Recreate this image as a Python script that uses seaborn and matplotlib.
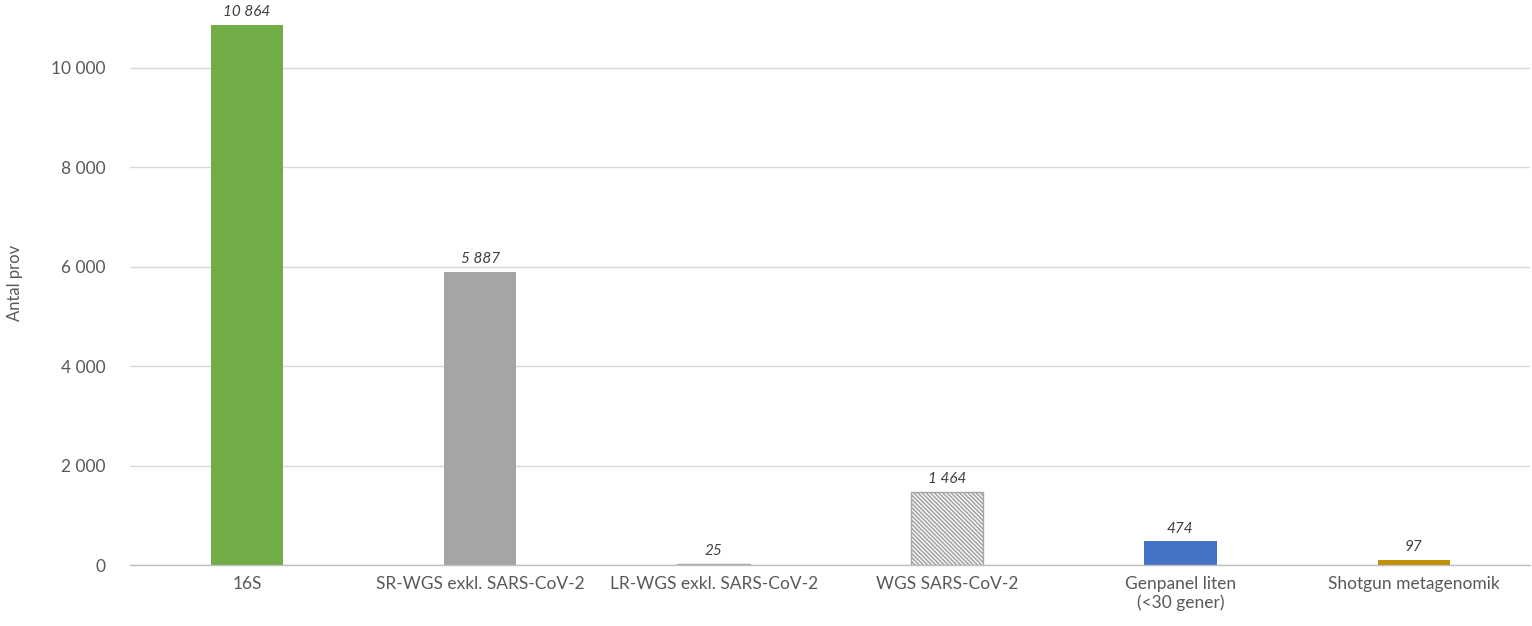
import pandas as pd
import seaborn as sns
import matplotlib.pyplot as plt

kategorier = ['16S', 'SR-WGS exkl. SARS-CoV-2', 'LR-WGS exkl. SARS-CoV-2',
              'WGS SARS-CoV-2', 'Genpanel liten\n(<30 gener)', 'Shotgun metagenomik']
antal = [10864, 5887, 25, 1464, 474, 97]
farger = ['#70AD47', '#A5A5A5', '#FFFFFF', '#FFFFFF', '#4472C4', '#BF9000']
streckad = [False, False, True, True, False, False]
yticks = [0, 2000, 4000, 6000, 8000, 10000]

df = pd.DataFrame({'kategori': kategorier, 'antal': antal})

sns.set_theme(style='white')
plt.rcParams['font.family'] = ['Lato', 'DejaVu Sans']
plt.rcParams['hatch.linewidth'] = 1.2
textfarg = '#595959'

fig = plt.figure(figsize=(15.32, 6.26), dpi=100)
ax = fig.add_axes([0.085, 0.0974, 0.914, 0.9026])

sns.barplot(data=df, x='kategori', y='antal', hue='kategori',
            palette=dict(zip(kategorier, farger)), width=0.31,
            legend=False, ax=ax, saturation=1)

for p, h in zip(ax.patches, streckad):
    if h:
        p.set_hatch('\\' * 8)
        p.set_edgecolor('#A5A5A5')
        p.set_linewidth(1.0)
    else:
        p.set_linewidth(0)

def fmt(v):
    return f'{v:,}'.replace(',', ' ')

for i, v in enumerate(antal):
    ax.text(i, v + 120, fmt(v), ha='center', va='bottom', fontsize=11,
            style='italic', color='#404040')

ax.set_xlim(-0.5, 5.5)
ax.set_ylim(0, 11368)
ax.set_yticks(yticks)
ax.set_yticklabels([fmt(t) for t in yticks], fontsize=12.5, color=textfarg)
ax.tick_params(axis='x', labelsize=12.5, labelcolor=textfarg, length=0, pad=8)
ax.tick_params(axis='y', length=0, pad=18)
ax.yaxis.grid(True, color='#D9D9D9', linewidth=1)
ax.set_axisbelow(True)
for s in ['top', 'right', 'left']:
    ax.spines[s].set_visible(False)
ax.spines['bottom'].set_color('#BFBFBF')
ax.spines['bottom'].set_linewidth(1)
ax.set_xlabel('')
ax.set_ylabel('Antal prov', fontsize=12, color=textfarg, labelpad=20)

fig.savefig('out.png', dpi=100)
